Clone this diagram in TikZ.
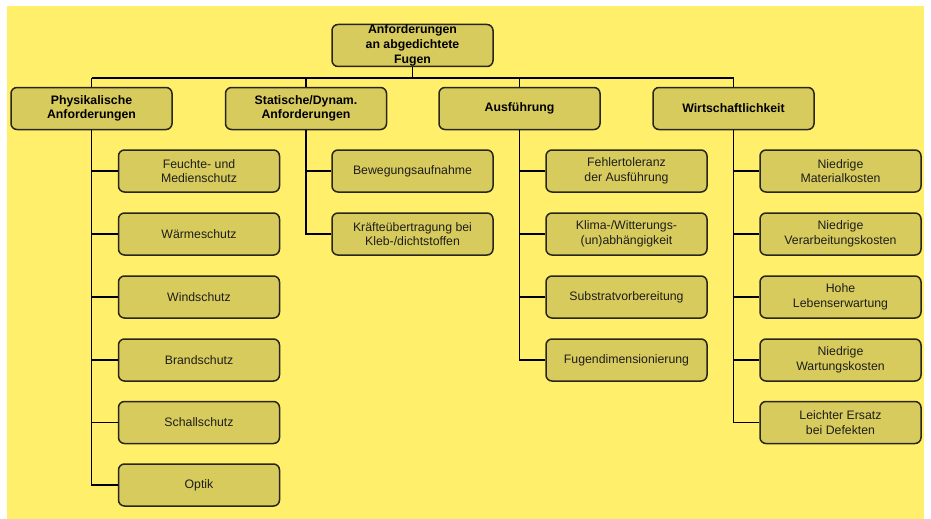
\documentclass[tikz,border=0pt]{standalone}
\usepackage{fontspec}
\setmainfont{Liberation Sans}
\definecolor{bgyellow}{RGB}{255,239,107}
\definecolor{boxfill}{RGB}{216,203,94}
\definecolor{boxline}{RGB}{40,38,25}
\definecolor{txt}{RGB}{30,30,25}
\begin{document}
\begin{tikzpicture}[x=1pt,y=-1pt,
  box/.style={draw=boxline,fill=boxfill,line width=1.5pt,rounded corners=6pt,
    minimum width=161pt,minimum height=42pt,inner sep=0pt,align=center,
    text=txt,font=\fontsize{12.3}{14.5}\selectfont},
  headbox/.style={box,font=\fontsize{12.3}{14.5}\selectfont\bfseries,text=black},
  rootbox/.style={box,font=\fontsize{12.3}{15.2}\selectfont\bfseries,text=black},
  conn/.style={draw=black,line width=1.6pt}]
\useasboundingbox (0,0) rectangle (931,519);
\fill[white] (0,0) rectangle (931,519);
\fill[bgyellow] (7,6) rectangle (924,519);

% root
\node[rootbox] (root) at (412.5,45.5) {Anforderungen\\an abgedichtete\\Fugen};

% level 1
\node[headbox] (p) at (91.5,108.5) {Physikalische\\Anforderungen};
\node[headbox] (s) at (306,108.5) {Statische/Dynam.\\Anforderungen};
\node[headbox] (a) at (519.5,108.5) {Ausführung};
\node[headbox] (w) at (733.5,108.5) {Wirtschaftlichkeit};

% column 1
\node[box] (p1) at (199,171) {Feuchte- und\\Medienschutz};
\node[box] (p2) at (199,234) {Wärmeschutz};
\node[box] (p3) at (199,297) {Windschutz};
\node[box] (p4) at (199,360) {Brandschutz};
\node[box] (p5) at (199,422.5) {Schallschutz};
\node[box] (p6) at (199,485) {Optik};

% column 2
\node[box] (s1) at (412.5,171) {Bewegungsaufnahme};
\node[box] (s2) at (412.5,234) {Kräfteübertragung bei\\Kleb-/dichtstoffen};

% column 3
\node[box] (a1) at (626.5,171) {Fehlertoleranz\\der Ausführung};
\node[box] (a2) at (626.5,234) {Klima-/Witterungs-\\(un)abhängigkeit};
\node[box] (a3) at (626.5,297) {Substratvorbereitung};
\node[box] (a4) at (626.5,360) {Fugendimensionierung};

% column 4
\node[box] (w1) at (840.5,171) {Niedrige\\Materialkosten};
\node[box] (w2) at (840.5,234) {Niedrige\\Verarbeitungskosten};
\node[box] (w3) at (840.5,297) {Hohe\\Lebenserwartung};
\node[box] (w4) at (840.5,360) {Niedrige\\Wartungskosten};
\node[box] (w5) at (840.5,422.5) {Leichter Ersatz\\bei Defekten};

% bus
\coordinate (busL) at (91.5,78);
\coordinate (busR) at (733.5,78);
\draw[conn] (busL) -- (busR);
\draw[conn] (root.south) -- (root.south |- busL);
\foreach \n in {p,s,a,w} \draw[conn] (\n.north) -- (\n.north |- busL);

% branches
\draw[conn] (p.south) |- (p6.west);
\foreach \c in {p1,p2,p3,p4,p5} \draw[conn] (p.south |- \c.west) -- (\c.west);
\draw[conn] (s.south) |- (s2.west);
\draw[conn] (s.south |- s1.west) -- (s1.west);
\draw[conn] (a.south) |- (a4.west);
\foreach \c in {a1,a2,a3} \draw[conn] (a.south |- \c.west) -- (\c.west);
\draw[conn] (w.south) |- (w5.west);
\foreach \c in {w1,w2,w3,w4} \draw[conn] (w.south |- \c.west) -- (\c.west);
\end{tikzpicture}
\end{document}
